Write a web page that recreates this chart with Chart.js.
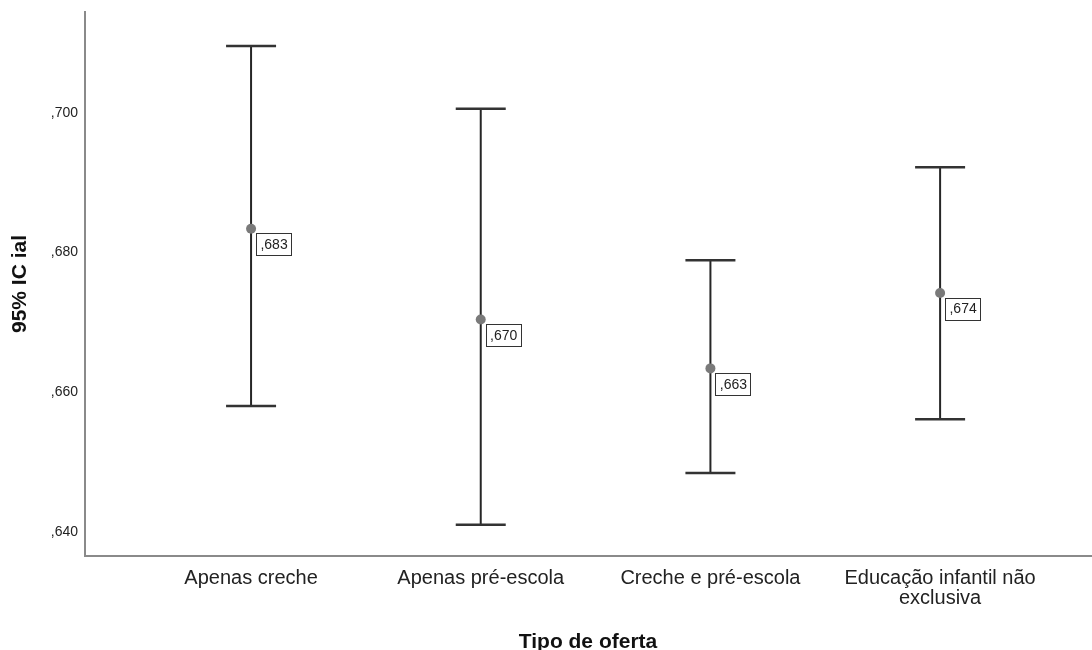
<!DOCTYPE html>
<html>
<head>
<meta charset="utf-8">
<script src="https://cdn.jsdelivr.net/npm/chart.js@4/dist/chart.umd.min.js"></script>
<style>
  html, body { margin: 0; padding: 0; background: #fff; }
  canvas { display: block; }
</style>
</head>
<body>
<canvas id="c" width="1092" height="650"></canvas>
<script>
const categories = ["Apenas creche", "Apenas pré-escola", "Creche e pré-escola", ["Educação infantil não", "exclusiva"]];
const means = [0.6834, 0.6704, 0.6634, 0.6742];
const lowerCI = [0.6580, 0.6410, 0.6484, 0.6561];
const upperCI = [0.7096, 0.7006, 0.6789, 0.6922];
const meanLabels = [",683", ",670", ",663", ",674"];
const yTicks = [0.640, 0.660, 0.680, 0.700];
const yTickLabels = [",640", ",660", ",680", ",700"];
const xTitle = "Tipo de oferta";
const yTitle = "95% IC ial";

const FONT = "'Liberation Sans', Arial, sans-serif";

const datasets = [{
  type: 'scatter',
  data: means.map((m, i) => ({ x: i + 1, y: m })),
  pointRadius: 5,
  pointBackgroundColor: '#7a7a7a',
  pointBorderWidth: 0,
  order: 0
}];
categories.forEach((c, i) => {
  datasets.push({
    type: 'line',
    data: [{ x: i + 1, y: lowerCI[i] }, { x: i + 1, y: upperCI[i] }],
    borderColor: '#262626',
    borderWidth: 2,
    pointStyle: 'line',
    pointRadius: 25,
    pointBorderWidth: 2.5,
    pointBorderColor: '#333',
    order: 1
  });
});

const labelPlugin = {
  id: 'meanLabels',
  afterDatasetsDraw(chart) {
    const ctx = chart.ctx;
    const meta = chart.getDatasetMeta(0);
    ctx.save();
    ctx.font = '14px ' + FONT;
    ctx.textAlign = 'center';
    ctx.textBaseline = 'middle';
    meta.data.forEach((pt, i) => {
      const x = pt.x + 5, y = pt.y + 4.5, w = 35, h = 22;
      ctx.fillStyle = '#fff';
      ctx.fillRect(x, y, w, h);
      ctx.strokeStyle = '#333';
      ctx.lineWidth = 1;
      ctx.strokeRect(Math.round(x) + 0.5, Math.round(y) + 0.5, w, h);
      ctx.fillStyle = '#222';
      ctx.fillText(meanLabels[i], x + w / 2 + 0.5, y + h / 2 + 1);
    });
    ctx.restore();
  }
};

new Chart(document.getElementById('c'), {
  type: 'scatter',
  data: { datasets },
  plugins: [labelPlugin],
  options: {
    responsive: false,
    devicePixelRatio: 1,
    animation: false,
    layout: { autoPadding: false, padding: { top: 12, right: 1, left: 0, bottom: 0 } },
    plugins: { legend: { display: false }, tooltip: { enabled: false } },
    scales: {
      x: {
        type: 'linear',
        min: 0.277,
        max: 4.657,
        grid: { display: false, drawTicks: false },
        border: { display: true, color: '#8a8a8a', width: 2 },
        afterBuildTicks(scale) { scale.ticks = categories.map((c, i) => ({ value: i + 1 })); },
        afterFit(scale) { scale.height = 94; scale.paddingLeft = 0; scale.paddingRight = 0; },
        ticks: {
          autoSkip: false,
          maxRotation: 0,
          padding: 12,
          color: '#222',
          font: { family: FONT, size: 20, lineHeight: 1.0 },
          callback: (v, i) => categories[i]
        },
        title: {
          display: true,
          text: xTitle,
          color: '#111',
          font: { family: FONT, size: 21, weight: 'bold', lineHeight: 1.0 },
          padding: { top: 0, bottom: -2.5 }
        }
      },
      y: {
        type: 'linear',
        min: 0.63652,
        max: 0.71446,
        grid: { display: false, drawTicks: false },
        border: { display: true, color: '#8a8a8a', width: 2 },
        afterBuildTicks(scale) { scale.ticks = yTicks.map(v => ({ value: v })); },
        afterFit(scale) { scale.width = 85; scale.paddingTop = 0; scale.paddingBottom = 0; },
        ticks: {
          padding: 7,
          color: '#222',
          font: { family: FONT, size: 14 },
          callback: (v, i) => yTickLabels[i]
        },
        title: {
          display: true,
          text: yTitle,
          color: '#111',
          font: { family: FONT, size: 21, weight: 'bold', lineHeight: 1.0 },
          padding: { top: 9.5, bottom: 0 }
        }
      }
    }
  }
});
</script>
</body>
</html>
